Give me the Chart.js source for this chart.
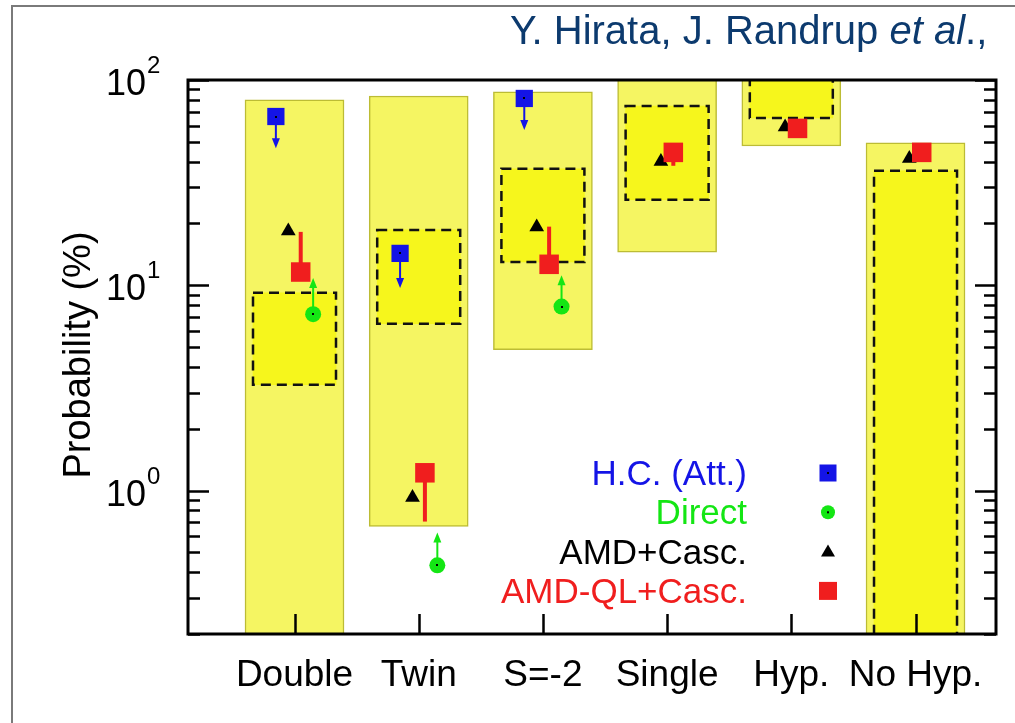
<!DOCTYPE html>
<html>
<head>
<meta charset="utf-8">
<title>Probability</title>
<script src="https://cdn.jsdelivr.net/npm/chart.js@4.4.1/dist/chart.umd.min.js"></script>
<style>
  html, body { margin: 0; padding: 0; background: #fff; }
  canvas { display: block; }
</style>
</head>
<body>
<canvas id="probChart" width="1015" height="723"></canvas>
<script>
// values (percent)
const categories = ['Double', 'Twin', 'S=-2', 'Single', 'Hyp.', 'No Hyp.'];
const yTicks = [1, 10, 100];
const rangeLow = [0.1, 0.668, 4.85, 14.5, 47.7, 0.1];
const rangeHigh = [80, 83.6, 87.5, 150, 150, 49.4];
const coreLow = [3.28, 6.5, 13.0, 26.1, 65.3, 0.1];
const coreHigh = [9.19, 18.6, 36.9, 74.7, 150, 36.1];
const hcAtt = [66.4, 14.3, 81.3, null, null, null];
const hcAttLimit = [46.5, 9.7, 57, null, null, null];
const direct = [7.23, 0.432, 7.87, null, null, null];
const directLimit = [10.85, 0.625, 11.2, null, null, null];
const amdCasc = [18.4, 0.925, 19.2, 40.1, 59.0, 41.5];
const amdQlCasc = [11.6, 1.22, 12.65, 44.4, 58.1, 44.4];
const amdQlErr = [18.2, 0.706, 19.3, 38.2, null, null];
const legendLabels = ['H.C. (Att.)', 'Direct', 'AMD+Casc.', 'AMD-QL+Casc.'];

const BLUE = '#1414e6', GREEN = '#14e614', RED = '#f01e1e', BLACK = '#000';
const FONT = "'Liberation Sans', Arial, sans-serif";

function points(values, shift) {
    return values.map((v, i) => ({ x: i + 1 + shift, y: v })).filter(p => p.y !== null);
}
function bars(lo, hi) {
    return lo.map((v, i) => ({ x: i + 1, y: [v, hi[i]] }));
}

function arrowHead(ctx, x, y, dir, color) {
    // dir = 1 points down, -1 points up
    ctx.fillStyle = color;
    ctx.beginPath();
    ctx.moveTo(x, y);
    ctx.lineTo(x - 4, y - dir * 10);
    ctx.lineTo(x + 4, y - dir * 10);
    ctx.closePath();
    ctx.fill();
}

const decorations = {
    id: 'decorations',
    beforeDraw(chart) {
        const ctx = chart.ctx;
        ctx.save();
        ctx.fillStyle = '#fff';
        ctx.fillRect(0, 0, chart.width, chart.height);
        ctx.strokeStyle = '#7a7a7a';
        ctx.lineWidth = 2;
        ctx.beginPath();
        ctx.moveTo(12, chart.height);
        ctx.lineTo(12, 6);
        ctx.lineTo(chart.width, 6);
        ctx.stroke();
        ctx.restore();
    },
    afterDatasetDraw(chart, args) {
        if (args.index !== 1) return;
        const ctx = chart.ctx, area = chart.chartArea;
        const xs = chart.scales.x, ys = chart.scales.y;
        ctx.save();
        ctx.beginPath();
        ctx.rect(area.left, area.top, area.right - area.left, area.bottom - area.top);
        ctx.clip();
        // dashed outline of the inner boxes
        ctx.strokeStyle = '#111';
        ctx.lineWidth = 2.5;
        ctx.setLineDash([10, 6]);
        args.meta.data.forEach(bar => {
            const p = bar.getProps(['x', 'y', 'base', 'width'], true);
            const top = Math.min(p.y, p.base), bot = Math.max(p.y, p.base);
            ctx.strokeRect(p.x - p.width / 2, top, p.width, bot - top);
        });
        ctx.setLineDash([]);
        // limits and error bars
        categories.forEach((c, i) => {
            if (hcAtt[i] !== null) {
                const x = xs.getPixelForValue(i + 1 - 0.15);
                const y0 = ys.getPixelForValue(hcAtt[i]), y1 = ys.getPixelForValue(hcAttLimit[i]);
                ctx.strokeStyle = BLUE; ctx.lineWidth = 2;
                ctx.beginPath(); ctx.moveTo(x, y0); ctx.lineTo(x, y1 - 4); ctx.stroke();
                arrowHead(ctx, x, y1, 1, BLUE);
            }
            if (direct[i] !== null) {
                const x = xs.getPixelForValue(i + 1 + 0.15);
                const y0 = ys.getPixelForValue(direct[i]), y1 = ys.getPixelForValue(directLimit[i]);
                ctx.strokeStyle = GREEN; ctx.lineWidth = 2;
                ctx.beginPath(); ctx.moveTo(x, y0); ctx.lineTo(x, y1 + 4); ctx.stroke();
                arrowHead(ctx, x, y1, -1, GREEN);
            }
            if (amdQlErr[i] !== null) {
                const x = xs.getPixelForValue(i + 1 + 0.05);
                ctx.strokeStyle = RED; ctx.lineWidth = 4;
                ctx.beginPath();
                ctx.moveTo(x, ys.getPixelForValue(amdQlCasc[i]));
                ctx.lineTo(x, ys.getPixelForValue(amdQlErr[i]));
                ctx.stroke();
            }
        });
        ctx.restore();
    },
    afterDraw(chart) {
        const ctx = chart.ctx, area = chart.chartArea;
        const xs = chart.scales.x, ys = chart.scales.y;
        ctx.save();
        // tiny centre dots on the blue and green markers
        ctx.fillStyle = '#000';
        [4, 5].forEach(idx => {
            chart.getDatasetMeta(idx).data.forEach(pt => {
                ctx.fillRect(Math.round(pt.x) - 1, Math.round(pt.y) - 1, 2, 2);
            });
        });
        // frame
        ctx.strokeStyle = '#000';
        ctx.lineWidth = 3;
        ctx.strokeRect(area.left, area.top, area.right - area.left, area.bottom - area.top);
        // y ticks, left and right, pointing inwards
        ctx.lineWidth = 2.5;
        ctx.beginPath();
        for (let dec = 0.1; dec < 100; dec *= 10) {
            for (let m = 1; m <= 10; m++) {
                const v = dec * m;
                if (v < ys.min - 1e-9 || v > ys.max + 1e-9) continue;
                const y = Math.round(ys.getPixelForValue(v)) + 0.5;
                const len = (m === 1 || m === 10) ? 21 : 12;
                ctx.moveTo(area.left, y); ctx.lineTo(area.left + len, y);
                ctx.moveTo(area.right, y); ctx.lineTo(area.right - len, y);
            }
        }
        categories.forEach((c, i) => {
            const x = Math.round(xs.getPixelForValue(i + 1)) + 0.5;
            ctx.moveTo(x, area.bottom); ctx.lineTo(x, area.bottom - 20);
        });
        ctx.stroke();
        // y tick labels 10^n
        ctx.fillStyle = '#000';
        yTicks.forEach(v => {
            const y = ys.getPixelForValue(v);
            ctx.font = '36px ' + FONT;
            ctx.textAlign = 'right';
            ctx.textBaseline = 'alphabetic';
            ctx.fillText('10', 146, y + 15);
            ctx.font = '24px ' + FONT;
            ctx.textAlign = 'left';
            ctx.fillText(String(Math.round(Math.log10(v))), 147, y - 7);
        });
        // x labels
        ctx.font = '37px ' + FONT;
        ctx.textAlign = 'center';
        categories.forEach((c, i) => {
            ctx.fillText(c, xs.getPixelForValue(i + 1), 686);
        });
        // y title
        ctx.save();
        ctx.translate(90, 355);
        ctx.rotate(-Math.PI / 2);
        ctx.font = '38px ' + FONT;
        ctx.textAlign = 'center';
        ctx.fillText('Probability (%)', 0, 0);
        ctx.restore();
        // legend
        const colors = [BLUE, GREEN, BLACK, RED];
        ctx.font = '35px ' + FONT;
        ctx.textAlign = 'right';
        legendLabels.forEach((t, k) => {
            const base = 485 + k * 39.3;
            ctx.fillStyle = colors[k];
            ctx.fillText(t, 747, base);
            const mx = 828, my = base - 12;
            if (k === 0 || k === 3) {
                const s = k === 0 ? 17 : 18;
                ctx.fillRect(mx - s / 2, my - s / 2, s, s);
            } else if (k === 1) {
                ctx.beginPath(); ctx.arc(mx, my, 7, 0, Math.PI * 2); ctx.fill();
            } else {
                ctx.beginPath();
                ctx.moveTo(mx, my - 7); ctx.lineTo(mx + 7, my + 5); ctx.lineTo(mx - 7, my + 5);
                ctx.closePath(); ctx.fill();
            }
            if (k < 2) {
                ctx.fillStyle = '#000';
                ctx.fillRect(mx - 1, my - 1, 2, 2);
            }
        });
        // author line
        ctx.fillStyle = '#0c3a6e';
        ctx.textAlign = 'left';
        let tx = 510;
        [['Y. Hirata, J. Randrup ', ''], ['et al', 'italic '], ['.,', '']].forEach(([s, st]) => {
            ctx.font = st + '40px ' + FONT;
            ctx.fillText(s, tx, 44);
            tx += ctx.measureText(s).width;
        });
        ctx.restore();
    }
};

const ctx = document.getElementById('probChart').getContext('2d');
const probChart = new Chart(ctx, {
    type: 'bar',
    data: {
        datasets: [
            {
                label: 'range', data: bars(rangeLow, rangeHigh), order: 10,
                backgroundColor: '#f5f562', borderColor: '#bcbc34', borderWidth: 1.5,
                borderSkipped: false, barThickness: 99, grouped: false, clip: 0
            },
            {
                label: 'core', data: bars(coreLow, coreHigh), order: 9,
                backgroundColor: '#f6f61c', borderWidth: 0,
                barThickness: 83, grouped: false, clip: 0
            },
            {
                type: 'line', label: 'AMD+Casc.', data: points(amdCasc, -0.05), order: 3,
                showLine: false, pointStyle: 'triangle', pointRadius: 8.5,
                backgroundColor: BLACK, borderColor: BLACK, borderWidth: 0
            },
            {
                type: 'line', label: 'AMD-QL+Casc.', data: points(amdQlCasc, 0.05), order: 2,
                showLine: false, pointStyle: 'rect', pointRadius: 13.8,
                backgroundColor: RED, borderColor: RED, borderWidth: 0
            },
            {
                type: 'line', label: 'H.C. (Att.)', data: points(hcAtt, -0.15), order: 1,
                showLine: false, pointStyle: 'rect', pointRadius: 12.2,
                backgroundColor: BLUE, borderColor: BLUE, borderWidth: 0
            },
            {
                type: 'line', label: 'Direct', data: points(direct, 0.15), order: 1,
                showLine: false, pointStyle: 'circle', pointRadius: 8,
                backgroundColor: GREEN, borderColor: GREEN, borderWidth: 0
            }
        ]
    },
    options: {
        responsive: false,
        animation: false,
        events: [],
        layout: { padding: { left: 188, top: 80, right: 19, bottom: 89 } },
        scales: {
            x: { type: 'linear', min: 0.1425, max: 6.648, offset: false, display: false },
            y: { type: 'logarithmic', min: 0.2, max: 100, display: false }
        },
        plugins: {
            legend: { display: false },
            tooltip: { enabled: false }
        }
    },
    plugins: [decorations]
});
</script>
</body>
</html>
